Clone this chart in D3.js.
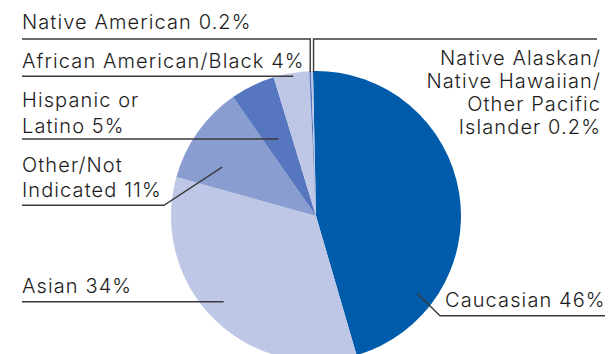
<!DOCTYPE html>
<html>
<head>
<meta charset="utf-8">
<script src="https://cdn.jsdelivr.net/npm/d3@7/dist/d3.min.js"></script>
<style>
  html, body { margin: 0; padding: 0; background: #fff; }
  svg { display: block; }
  text { font-family: Inter, "Open Sans", sans-serif; font-size: 20px; font-weight: 300; letter-spacing: 1.1px; fill: #1c1c1c; }
</style>
</head>
<body>
<svg id="chart" width="609" height="354"></svg>
<script>
// Enrollment by ethnicity (percent), in drawing order clockwise from the top
const categories = [
  "Caucasian",
  "Asian",
  "Other/Not Indicated",
  "Hispanic or Latino",
  "African American/Black",
  "Native American",
  "Native Alaskan/Native Hawaiian/Other Pacific Islander"
];
const values = [46, 34, 11, 5, 4, 0.2, 0.2];
const colors = ["#005baa", "#bec7e6", "#8a9dd0", "#5676bf", "#bec7e6", "#5676bf", "#bec7e6"];

// Label text lines per category
const labelLines = [
  ["Caucasian 46%"],
  ["Asian 34%"],
  ["Other/Not", "Indicated 11%"],
  ["Hispanic or", "Latino 5%"],
  ["African American/Black 4%"],
  ["Native American 0.2%"],
  ["Native Alaskan/", "Native Hawaiian/", "Other Pacific", "Islander 0.2%"]
];

const svg = d3.select("#chart");
const cx = 316, cy = 216, R = 145;
const offset = -0.021; // slight rotation so the largest slice starts just left of 12 o'clock

const pie = d3.pie().sort(null).value(d => d)
  .startAngle(offset).endAngle(2 * Math.PI + offset);
const arcs = pie(values);
const arc = d3.arc().innerRadius(0).outerRadius(R);

const g = svg.append("g").attr("transform", `translate(${cx},${cy})`);
g.selectAll("path").data(arcs).join("path")
  .attr("d", arc)
  .attr("fill", (d, i) => colors[i]);

// angle within a slice, t in [0,1]
const angleAt = (i, t) => arcs[i].startAngle + t * (arcs[i].endAngle - arcs[i].startAngle);
const polar = (a, rho) => [cx + rho * Math.sin(a), cy - rho * Math.cos(a)];
// x where a slice ray crosses a horizontal line at y
const rayX = (a, y) => cx + (cy - y) * Math.tan(a);

const lineColor = "#3a3a3a";
const leaders = svg.append("g").attr("fill", "none").attr("stroke", lineColor).attr("stroke-width", 1.4);
const labels = svg.append("g");

function drawText(lines, x, y0, step, anchor) {
  const t = labels.append("text").attr("x", x).attr("text-anchor", anchor || "start");
  lines.forEach((s, k) => t.append("tspan").attr("x", x).attr("y", y0 + k * step).text(s));
}

// Caucasian: label bottom right, elbow leader
{
  const p = polar(angleAt(0, 0.78), R * 0.88);
  leaders.append("path").attr("d", d3.line()([p, [440, 315.7], [605, 315.7]]));
  drawText(labelLines[0], 445, 306.5, 26);
}
// Asian: horizontal leader
{
  const y = 301.7, x = rayX(angleAt(1, 0.52), y);
  leaders.append("path").attr("d", d3.line()([[22, y], [x, y]]));
  drawText(labelLines[1], 22, 292.7, 26);
}
// Other/Not Indicated: elbow leader
{
  const p = polar(angleAt(2, 0.30), R * 0.73);
  leaders.append("path").attr("d", d3.line()([[22, 205.3], [164, 205.3], p]));
  drawText(labelLines[2], 22, 171.7, 25);
}
// Hispanic or Latino
{
  const y = 139, x = rayX(angleAt(3, 0.49), y);
  leaders.append("path").attr("d", d3.line()([[22, y], [x, y]]));
  drawText(labelLines[3], 22, 106.7, 26);
}
// African American/Black
{
  const y = 76.3, x = rayX(angleAt(4, 0.54), y);
  leaders.append("path").attr("d", d3.line()([[22, y], [x, y]]));
  drawText(labelLines[4], 22, 68.3, 26);
}
// Native American: horizontal then down to the pie rim
{
  const p = polar(angleAt(5, 0.5), R);
  leaders.append("path").attr("d", d3.line()([[22, 39], [p[0], 39], [p[0], p[1] + 1]]));
  drawText(labelLines[5], 22, 29.3, 26);
}
// Native Alaskan / Hawaiian / Pacific Islander
{
  const p = polar(angleAt(6, 0.5), R);
  leaders.append("path").attr("d", d3.line()([[597, 39], [p[0] + 1.5, 39], [p[0] + 1.5, p[1] + 1]]));
  drawText(labelLines[6], 601, 65, 23, "end");
}
</script>
</body>
</html>
